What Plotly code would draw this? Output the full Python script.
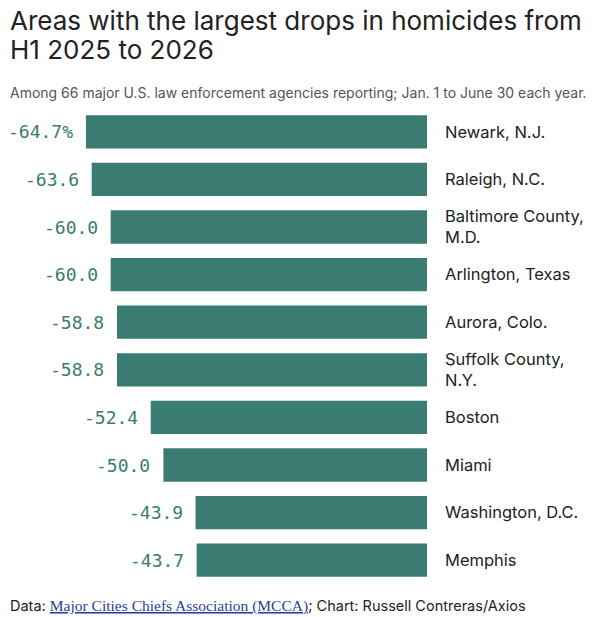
import plotly.graph_objects as go

# Data (percent change, H1 2025 -> H1 2026)
cities = ['Newark, N.J.', 'Raleigh, N.C.', 'Baltimore County,<br>M.D.', 'Arlington, Texas',
          'Aurora, Colo.', 'Suffolk County,<br>N.Y.', 'Boston', 'Miami',
          'Washington, D.C.', 'Memphis']
changes = [-64.7, -63.6, -60.0, -60.0, -58.8, -58.8, -52.4, -50.0, -43.9, -43.7]
value_labels = ['-64.7%', '-63.6', '-60.0', '-60.0', '-58.8', '-58.8', '-52.4', '-50.0', '-43.9', '-43.7']

bar_color = '#3a7b72'
sans = 'Inter, Roboto, sans-serif'
mono = 'DejaVu Sans Mono, monospace'

W, H = 599, 617
TOP, BOT = 108, 33


def paper_y(ypix):
    # pixel row from the top of the page -> paper coordinate
    return (H - BOT - ypix) / (H - TOP - BOT)


fig = go.Figure(go.Bar(x=changes, y=cities, orientation='h',
                       marker=dict(color=bar_color, line=dict(width=0)),
                       hoverinfo='skip'))

# value labels left of each bar
for c, v, t in zip(cities, changes, value_labels):
    fig.add_annotation(x=v, y=c, text=t, xanchor='right', xshift=-11, showarrow=False,
                       font=dict(family=mono, size=18, color=bar_color))

# title, subtitle and footer
header = [
    ('Areas with the largest drops in homicides from', 20, 26, '#222'),
    ('H1 2025 to 2026', 50, 26, '#222'),
    ('Among 66 major U.S. law enforcement agencies reporting; Jan. 1 to June 30 each year.', 93, 14, '#555'),
    ("Data: <a href='https://majorcitieschiefs.com/' style='color:#2a3d9c;"
     "font-family:Liberation Serif, serif;font-size:15.5px;text-decoration:underline'>"
     "Major Cities Chiefs Association (MCCA)</a>; Chart: Russell Contreras/Axios", 606, 14.5, '#222'),
]
for text, ypix, size, color in header:
    fig.add_annotation(xref='paper', yref='paper', x=0, y=paper_y(ypix), xshift=-70,
                       text=text, showarrow=False, xanchor='left', yanchor='middle',
                       font=dict(family=sans, size=size, color=color))

fig.update_layout(
    width=W, height=H,
    margin=dict(l=78, r=172, t=TOP, b=BOT, autoexpand=False),
    plot_bgcolor='white', paper_bgcolor='white',
    bargap=0.3, showlegend=False,
    xaxis=dict(range=[-66.2, 0], visible=False, fixedrange=True),
    yaxis=dict(autorange='reversed', side='right', showgrid=False, zeroline=False,
               showline=False, ticks='', ticklabelstandoff=17, automargin=False,
               tickfont=dict(family=sans, size=16.5, color='#222')),
)

# drop the page's default body margin so the figure sits at the window's corner
fig.write_html('out.html', config={'displayModeBar': False},
               post_script="document.body.style.margin='0';")
